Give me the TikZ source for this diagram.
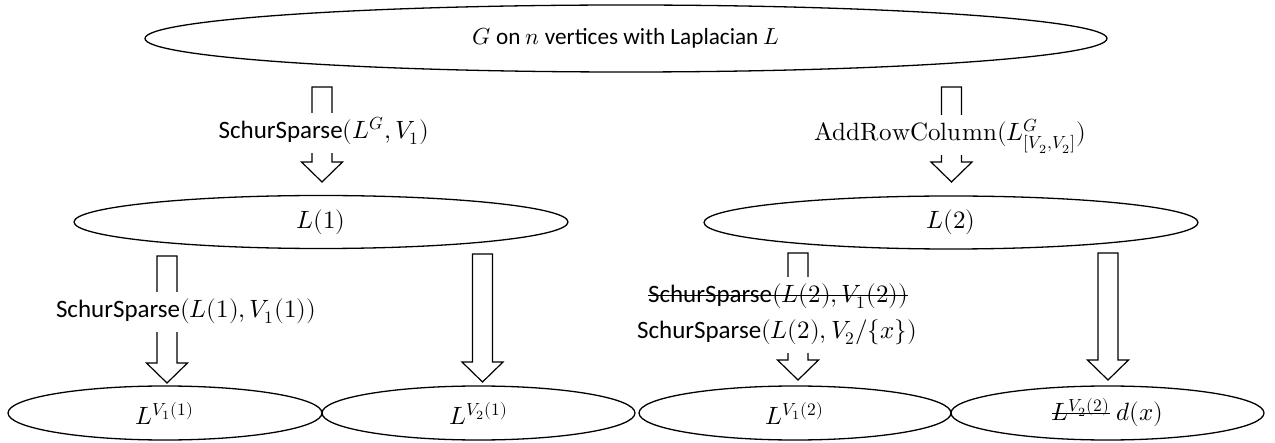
\documentclass[tikz,border=0pt]{standalone}
\usepackage{fontspec}
\usepackage{unicode-math}
\setmainfont{Carlito}
\usetikzlibrary{shapes.geometric,calc}
\newlength\strklen
\newcommand\strk[1]{\settowidth\strklen{#1}\rlap{\rule[3.3pt]{\strklen}{0.65pt}}#1}
\tikzset{
  every node/.style={font=\fontsize{12.5pt}{15pt}\selectfont},
  ell/.style={draw, ellipse, line width=0.65pt, inner sep=0pt},
  blk/.style={draw, line width=0.6pt, fill=white},
  lab/.style={fill=white, inner xsep=2pt, inner ysep=0pt, text height=9pt, text depth=3.5pt, minimum height=20pt},
}
\newcommand\blockarr[2]{\draw[blk] let \p1=(#1), \p2=(#2) in
  (\x1-5pt,\y1) -- (\x1+5pt,\y1) -- (\x1+5pt,\y2+10pt) -- (\x1+10.25pt,\y2+10pt)
  -- (\x1,\y2) -- (\x1-10.25pt,\y2+10pt) -- (\x1-5pt,\y2+10pt) -- cycle;}
\begin{document}
\begin{tikzpicture}[x=0.5pt,y=-0.5pt]
\useasboundingbox (0,0) rectangle (1275,443);
% ellipses
\node[ell, minimum width=481pt, minimum height=33.5pt, font=\fontsize{11.6pt}{14pt}\selectfont] (top) at (626,38.5) {$G$ on $n$ vertices with Laplacian $L$};
\node[ell, minimum width=247pt, minimum height=26.5pt] (L1) at (321,222) {$L(1)$};
\node[ell, minimum width=247pt, minimum height=26.5pt] (L2) at (951,222.5) {$L(2)$};
\node[ell, minimum width=157pt, minimum height=27pt] (b1) at (165,413) {$L^{V_1(1)}$};
\node[ell, minimum width=156.5pt, minimum height=27pt] (b2) at (478.5,413) {$L^{V_2(1)}$};
\node[ell, minimum width=156pt, minimum height=27pt] (b3) at (795,413) {$L^{V_1(2)}$};
\node[ell, minimum width=156.5pt, minimum height=27pt] (b4) at (1107.5,413) {\strk{$L^{V_2(2)}$}\ $d(x)$};
% arrow end points
\coordinate (a1s) at (322,87);    \coordinate (a1e) at (322,182);
\coordinate (a2s) at (951.5,87);  \coordinate (a2e) at (951.5,182);
\coordinate (a3s) at (167,256);   \coordinate (a3e) at (167,383);
\coordinate (a4s) at (482.5,254); \coordinate (a4e) at (482.5,382);
\coordinate (a5s) at (798,253);   \coordinate (a5e) at (798,380);
\coordinate (a6s) at (1108,253);  \coordinate (a6e) at (1108,380);
\blockarr{a1s}{a1e}
\blockarr{a2s}{a2e}
\blockarr{a3s}{a3e}
\blockarr{a4s}{a4e}
\blockarr{a5s}{a5e}
\blockarr{a6s}{a6e}
% labels
\node[lab] (l1) at (324,133) {SchurSparse$(L^{G},V_1)$};
\node[lab] (l2) at (950,135) {$\symup{AddRowColumn}(L^{G}_{[V_2,V_2]})$};
\node[lab] (l3) at (186,312) {SchurSparse$(L(1),V_1(1))$};
\node[lab] (l4) at (778,297) {\strk{SchurSparse$(L(2),V_1(2))$}};
\node[lab] (l5) at (777,333) {SchurSparse$(L(2),V_2/\{x\})$};
\end{tikzpicture}
\end{document}
